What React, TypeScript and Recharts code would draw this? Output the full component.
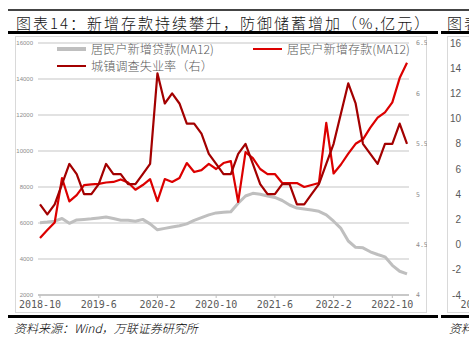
import { LineChart, Line, XAxis, YAxis, CartesianGrid } from "recharts";

const months = [
  "2018-10", "2018-11", "2018-12",
  "2019-1", "2019-2", "2019-3", "2019-4", "2019-5", "2019-6", "2019-7", "2019-8", "2019-9", "2019-10", "2019-11", "2019-12",
  "2020-1", "2020-2", "2020-3", "2020-4", "2020-5", "2020-6", "2020-7", "2020-8", "2020-9", "2020-10", "2020-11", "2020-12",
  "2021-1", "2021-2", "2021-3", "2021-4", "2021-5", "2021-6", "2021-7", "2021-8", "2021-9", "2021-10", "2021-11", "2021-12",
  "2022-1", "2022-2", "2022-3", "2022-4", "2022-5", "2022-6", "2022-7", "2022-8", "2022-9", "2022-10", "2022-11", "2022-12",
];

// 居民户新增贷款(MA12), 亿元
const loansMA12 = [
  6020, 6050, 6100, 6250, 5980, 6170, 6200, 6230, 6280, 6330,
  6250, 6150, 6150, 6100, 6200, 5950, 5620, 5700, 5780, 5850,
  5950, 6150, 6300, 6450, 6560, 6600, 6620, 7100, 7500, 7650,
  7600, 7500, 7420, 7250, 7000, 6830, 6780, 6720, 6650, 6450,
  6100, 5700, 5000, 4650, 4620, 4400, 4250, 4120, 3650, 3320, 3170,
];

// 居民户新增存款(MA12), 亿元
const depositsMA12 = [
  5170, 5610, 6030, 8500, 7200, 7550, 8100, 8150, 8170, 8250,
  8280, 8420, 8250, 7850, 8110, 8440, 7220, 8440, 8280, 8500,
  9330, 8830, 8940, 9280, 9000, 9330, 9440, 7170, 9940, 9610,
  9000, 8720, 8720, 8220, 8220, 8220, 8000, 8110, 8220, 11560,
  8750, 9250, 9850, 10400, 10650, 11300, 11850, 12150, 12700, 14050, 14900,
];

// 城镇调查失业率, %
const unemploymentRate = [
  4.9, 4.8, 4.9,
  5.1, 5.3, 5.2, 5.0, 5.0, 5.1, 5.3, 5.2, 5.2, 5.1, 5.1, 5.2,
  5.3, 6.2, 5.9, 6.0, 5.9, 5.7, 5.7, 5.6, 5.4, 5.3, 5.2, 5.2,
  5.4, 5.5, 5.3, 5.1, 5.0, 5.0, 5.1, 5.1, 4.9, 4.9, 5.0, 5.1,
  5.3, 5.5, 5.8, 6.1, 5.9, 5.5, 5.4, 5.3, 5.5, 5.5, 5.7, 5.5,
];

const leftTicks = [2000, 4000, 6000, 8000, 10000, 12000, 14000, 16000];
const rightTicks = [4, 4.5, 5, 5.5, 6, 6.5];
const monthTicks = ["2018-10", "2019-6", "2020-2", "2020-10", "2021-6", "2022-2", "2022-10"];

// the next figure, cut off at the right edge of the page
const nextTicks = [-4, -2, 0, 2, 4, 6, 8, 10, 12, 14, 16];
const nextMonths = ["2018-10"];

const GRAY = "#bfbfbf";
const RED = "#dc0000";
const DARK_RED = "#a30000";
const TEXT = "#595959";
const CJK = "'Noto Sans CJK SC', 'Noto Sans', sans-serif";
const MONO = "'DejaVu Sans Mono', monospace";

function LegendItem({ left, top, color, thick, label }: { left: number; top: number; color: string; thick: number; label: string }) {
  return (
    <div style={{ position: "absolute", left, top, height: 14, display: "flex", alignItems: "center", whiteSpace: "nowrap" }}>
      <div style={{ width: 29, height: thick, background: color, marginRight: 5 }} />
      <span style={{ fontSize: 12.2, lineHeight: "14px", color: TEXT, fontFamily: CJK, fontWeight: 300 }}>{label}</span>
    </div>
  );
}

export default function App() {
  const data = months.map((m, i) => ({
    m,
    loans: loansMA12[i],
    deposits: depositsMA12[i],
    unemp: unemploymentRate[i],
  }));
  const nextData = nextMonths.map((m) => ({ m, v: null }));

  return (
    <div style={{ position: "absolute", left: 0, top: 0, width: 469, height: 349, overflow: "hidden", background: "#fff", fontFamily: CJK }}>
      {/* title block */}
      <div style={{ position: "absolute", left: 8, top: 9, width: 461, height: 1.5, background: "#444" }} />
      <div style={{ position: "absolute", left: 16, top: 13, fontSize: 15, letterSpacing: 2, lineHeight: "20px", whiteSpace: "nowrap", color: "#111", fontWeight: 300 }}>
        图表14：新增存款持续攀升，防御储蓄增加（%,亿元）
      </div>
      <div style={{ position: "absolute", left: 447, top: 13, fontSize: 15, letterSpacing: 2, lineHeight: "20px", whiteSpace: "nowrap", color: "#111", fontWeight: 300 }}>
        图表15：
      </div>
      <div style={{ position: "absolute", left: 8, top: 31, width: 430, height: 3, background: "#000" }} />
      <div style={{ position: "absolute", left: 441, top: 31, width: 28, height: 3, background: "#000" }} />

      {/* frames */}
      <div style={{ position: "absolute", left: 15, top: 36, width: 412, height: 277, border: "1px solid #d9d9d9", boxSizing: "border-box" }} />
      <div style={{ position: "absolute", left: 447, top: 36, width: 40, height: 277, border: "1px solid #d9d9d9", boxSizing: "border-box" }} />

      <div style={{ position: "absolute", left: 15, top: 36 }}>
        <LineChart width={412} height={277} data={data} margin={{ top: 7, right: 0, bottom: 0, left: 0 }}>
          <CartesianGrid yAxisId="l" vertical={false} stroke="#d9d9d9" strokeWidth={1.3} />
          <XAxis
            dataKey="m"
            ticks={monthTicks}
            interval={0}
            height={18}
            padding={{ left: 2, right: 2 }}
            tickSize={3}
            tickMargin={3}
            axisLine={{ stroke: GRAY, strokeWidth: 1.5 }}
            tickLine={{ stroke: GRAY }}
            tick={{ fontSize: 10, fill: TEXT, fontFamily: MONO }}
          />
          <YAxis
            yAxisId="l"
            width={23}
            domain={[2000, 16000]}
            ticks={leftTicks}
            tickSize={0}
            tickMargin={5}
            axisLine={false}
            tick={{ fontSize: 6, fill: "#8c8c8c", fontFamily: "'Liberation Sans', sans-serif" }}
          />
          <YAxis
            yAxisId="r"
            orientation="right"
            width={18}
            domain={[4, 6.5]}
            ticks={rightTicks}
            tickSize={0}
            tickMargin={7}
            axisLine={false}
            tick={{ fontSize: 6.5, fill: "#8c8c8c", fontFamily: MONO, textAnchor: "start" }}
          />
          <Line yAxisId="l" dataKey="loans" stroke={GRAY} strokeWidth={3} dot={false} isAnimationActive={false} strokeLinejoin="round" />
          <Line yAxisId="l" dataKey="deposits" stroke={RED} strokeWidth={2.2} dot={false} isAnimationActive={false} strokeLinejoin="round" />
          <Line yAxisId="r" dataKey="unemp" stroke={DARK_RED} strokeWidth={2.2} dot={false} isAnimationActive={false} strokeLinejoin="round" />
        </LineChart>
      </div>

      <LegendItem left={57} top={42} color={GRAY} thick={4} label="居民户新增贷款(MA12)" />
      <LegendItem left={253} top={42} color={RED} thick={2.5} label="居民户新增存款(MA12)" />
      <LegendItem left={57} top={59} color={DARK_RED} thick={2.5} label="城镇调查失业率（右）" />

      <div style={{ position: "absolute", left: 447, top: 36 }}>
        <LineChart width={52} height={277} data={nextData} margin={{ top: 7, right: 0, bottom: 0, left: 0 }}>
          <XAxis dataKey="m" height={18} interval={0} tickSize={0} tickMargin={6} axisLine={false} tick={{ fontSize: 10, fill: TEXT, fontFamily: MONO }} />
          <YAxis
            width={17}
            type="number"
            domain={[-4, 16]}
            ticks={nextTicks}
            allowDataOverflow
            tickSize={0}
            tickMargin={3}
            axisLine={false}
            tick={{ fontSize: 10, fill: TEXT, fontFamily: "'Liberation Sans', sans-serif" }}
          />
          <Line dataKey="v" stroke="none" dot={false} isAnimationActive={false} />
        </LineChart>
      </div>

      {/* footer */}
      <div style={{ position: "absolute", left: 8, top: 315, width: 430, height: 2.5, background: "#000" }} />
      <div style={{ position: "absolute", left: 441, top: 315, width: 28, height: 2.5, background: "#000" }} />
      <div style={{ position: "absolute", left: 14, top: 320, fontSize: 12, fontStyle: "italic", whiteSpace: "nowrap", color: "#000", lineHeight: "16px", fontWeight: 300 }}>
        资料来源：Wind，万联证券研究所
      </div>
      <div style={{ position: "absolute", left: 449, top: 320, fontSize: 12, fontStyle: "italic", whiteSpace: "nowrap", color: "#000", lineHeight: "16px", fontWeight: 300 }}>
        资料来源：Wind
      </div>
    </div>
  );
}
